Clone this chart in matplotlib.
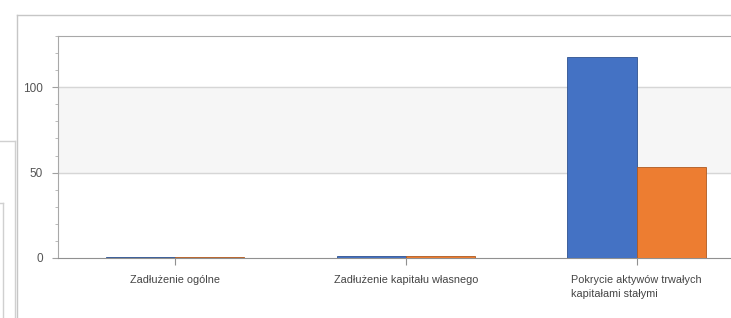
import matplotlib.pyplot as plt
from matplotlib.lines import Line2D

categories = ["Zadłużenie ogólne", "Zadłużenie kapitału własnego",
              "Pokrycie aktywów trwałych\nkapitałami stałymi"]
series_a = [0.8, 1.2, 117.5]
series_b = [0.7, 1.1, 53.2]

plt.rcParams['font.family'] = ['Liberation Sans', 'DejaVu Sans']

fig = plt.figure(figsize=(7.31, 3.18), dpi=100)
W, H = 731, 318


def px_line(x0, y0, x1, y1, color="#c6c6c6"):
    fig.add_artist(Line2D([x0 / W, x1 / W], [1 - y0 / H, 1 - y1 / H],
                          transform=fig.transFigure, color=color, lw=1))


# window frames around the chart
px_line(17, 15, 731, 15)
px_line(17, 15, 17, 318)
px_line(0, 141, 15, 141, "#d0d0d0")
px_line(15, 141, 15, 318, "#d0d0d0")
px_line(0, 203, 3, 203, "#d0d0d0")
px_line(3, 203, 3, 318, "#d0d0d0")

ax = fig.add_axes([58 / W, 1 - 258 / H, (752 - 58) / W, (258 - 36) / H])
x = range(len(categories))
w = 0.3
ax.bar([i - w / 2 for i in x], series_a, width=w, color="#4472C4",
       edgecolor="#2f528f", linewidth=0.6, zorder=3)
ax.bar([i + w / 2 for i in x], series_b, width=w, color="#ED7D31",
       edgecolor="#ae5a21", linewidth=0.6, zorder=3)

ax.set_xlim(-0.507, 2.5)
ax.set_ylim(0, 130)
ax.axhspan(50, 100, color="#f6f6f6", zorder=0)
for v in (50, 100):
    ax.axhline(v, color="#d6d6d6", lw=1, zorder=1)

ax.set_yticks([0, 50, 100])
ax.set_yticks(range(0, 131, 10), minor=True)
ax.set_xticks(list(x))
ax.set_xticklabels(categories, multialignment='left', linespacing=1.55)
ax.tick_params(axis='y', which='major', length=4, color="#a0a0a0",
               labelsize=8.5, labelcolor="#555555", pad=7)
ax.tick_params(axis='y', which='minor', length=2, color="#b0b0b0")
ax.tick_params(axis='x', length=5, color="#909090", labelsize=7.8,
               labelcolor="#444444", pad=7)

for s in ("left", "bottom", "top"):
    ax.spines[s].set_color("#a8a8a8")
ax.spines["right"].set_visible(False)
ax.spines["bottom"].set_color("#909090")

fig.savefig("out.png", dpi=100)
